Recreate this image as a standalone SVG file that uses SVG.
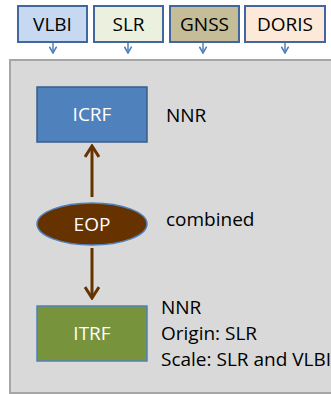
<svg xmlns="http://www.w3.org/2000/svg" width="331" height="394" viewBox="0 0 331 394">
<defs>
<style>
text{font-family:"Open Sans","Liberation Sans",sans-serif;font-size:19px;}
.src{stroke:#41679e;stroke-width:2;}
.lbl{fill:#000;text-anchor:middle;}
.wl{fill:#fff;text-anchor:middle;}
.side{fill:#000;}
.blue{stroke:#4f81bd;stroke-width:1.5;fill:none;}
.brown{stroke:#663300;stroke-width:3;fill:none;}
</style>
<marker id="ah" viewBox="0 0 10 10" refX="9" refY="5" markerWidth="9" markerHeight="9" orient="auto" markerUnits="userSpaceOnUse">
<path d="M2,1 L9,5 L2,9" fill="none" stroke="#4f81bd" stroke-width="1.8"/>
</marker>
<marker id="bh" viewBox="0 0 16 16" refX="14" refY="8" markerWidth="16" markerHeight="16" orient="auto" markerUnits="userSpaceOnUse">
<path d="M3,1 L14,8 L3,15" fill="none" stroke="#663300" stroke-width="3" stroke-linejoin="miter"/>
</marker>
</defs>
<rect x="10" y="60" width="330" height="333" fill="#d9d9d9" stroke="#a6a6a6" stroke-width="2"/>
<g id="VLBI"><rect x="18" y="6" width="69" height="36" fill="#c6d9f1" class="src"/><text x="52.5" y="31" class="lbl">VLBI</text></g>
<g id="SLR"><rect x="94" y="6" width="69" height="36" fill="#ebf1de" class="src"/><text x="128.5" y="31" class="lbl">SLR</text></g>
<g id="GNSS"><rect x="170" y="6" width="69" height="36" fill="#c4bd97" class="src"/><text x="204.5" y="31" class="lbl">GNSS</text></g>
<g id="DORIS"><rect x="245" y="6" width="80" height="36" fill="#fde9d9" class="src"/><text x="285" y="31" class="lbl">DORIS</text></g>
<g id="ICRF"><rect x="37" y="87" width="110" height="55" fill="#4f81bd" stroke="#385d8a" stroke-width="1.5"/><text x="92" y="121" class="wl">ICRF</text><text x="166" y="122" class="side">NNR</text></g>
<g id="EOP"><ellipse cx="92" cy="224" rx="55" ry="21" fill="#663300" stroke="#4f81bd" stroke-width="1.5"/><text x="92" y="231" class="wl">EOP</text><text x="166" y="226" class="side">combined</text></g>
<g id="ITRF"><rect x="37" y="306" width="110" height="55" fill="#77933c" stroke="#4f81bd" stroke-width="1.5"/><text x="92" y="340" class="wl">ITRF</text>
<text x="161" y="314" class="side">NNR</text><text x="161" y="340" class="side">Origin: SLR</text><text x="161" y="366" class="side">Scale: SLR and VLBI</text></g>
<g id="connectors">
<path class="blue" d="M53,43 V53" marker-end="url(#ah)"/>
<path class="blue" d="M128,43 V53" marker-end="url(#ah)"/>
<path class="blue" d="M203,43 V53" marker-end="url(#ah)"/>
<path class="blue" d="M285,43 V53" marker-end="url(#ah)"/>
<path class="brown" d="M92,197 V146" marker-end="url(#bh)"/>
<path class="brown" d="M92,248 V298" marker-end="url(#bh)"/>
</g>
</svg>
